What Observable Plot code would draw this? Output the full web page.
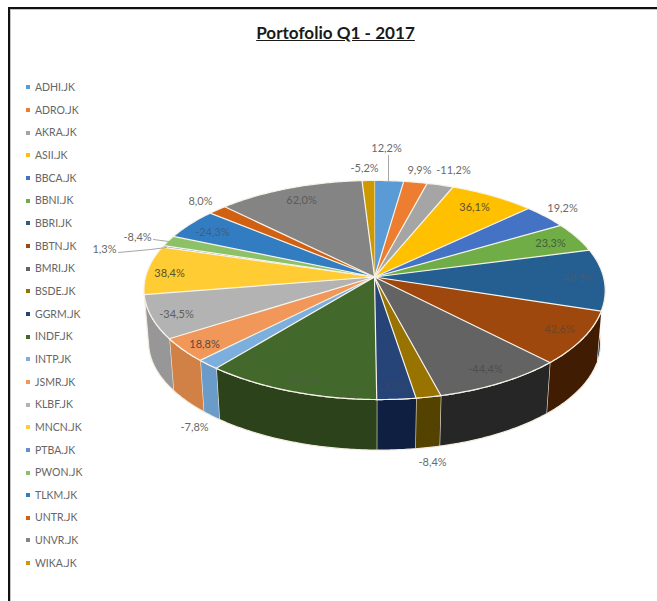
<!DOCTYPE html>
<html>
<head>
<meta charset="utf-8">
<title>Portofolio Q1 - 2017</title>
<script src="https://cdn.jsdelivr.net/npm/d3@7"></script>
<script src="https://cdn.jsdelivr.net/npm/@observablehq/plot@0.6"></script>
<style>
  html, body { margin: 0; padding: 0; background: #fff; overflow: hidden; }
  #frame {
    box-sizing: border-box; width: 649px; height: 594px; margin: 7px 0 0 8px;
    border-left: 2px solid #111; border-top: 2px solid #111;
    box-shadow: inset 1px 1px 0 #c4c4c4;
  }
  #title {
    height: 51px; box-sizing: border-box; padding: 13px 0 0 4px; text-align: center;
    font: 700 17.1px Lato, sans-serif; color: #1a1a1a; text-decoration: underline;
  }
  #row { display: flex; }
  #legend {
    width: 75px; box-sizing: border-box; padding: 16px 0 0 16px;
    font: 10.5px Lato, sans-serif; color: #666;
  }
  .key { height: 22.67px; line-height: 22.67px; white-space: nowrap; }
  .key i { display: inline-block; width: 4px; height: 4px; margin: 0 5px 2px 0; vertical-align: middle; }
  #pie svg { display: block; }
</style>
</head>
<body>
<div id="frame">
  <div id="title">Portofolio Q1 - 2017</div>
  <div id="row">
    <div id="legend"></div>
    <div id="pie"></div>
  </div>
</div>
<script>
// Holdings in legend order, clockwise from twelve o'clock.
const tickers = ["ADHI.JK","ADRO.JK","AKRA.JK","ASII.JK","BBCA.JK","BBNI.JK","BBRI.JK","BBTN.JK","BMRI.JK","BSDE.JK","GGRM.JK","INDF.JK","INTP.JK","JSMR.JK","KLBF.JK","MNCN.JK","PTBA.JK","PWON.JK","TLKM.JK","UNTR.JK","UNVR.JK","WIKA.JK"];
const returns = [12.2,9.9,-11.2,36.1,19.2,23.3,48.5,42.6,-44.4,-8.4,13.0,-58.3,-7.8,18.8,-34.5,38.4,1.3,-8.4,-24.3,8.0,62.0,-5.2];
const faceColors = ["#5B9BD5","#ED7D31","#A5A5A5","#FFC000","#4472C4","#70AD47","#255E91","#9E480E","#636363","#997300","#264478","#43682B","#7CAFDD","#F1975A","#B3B3B3","#FFCD33","#698ED0","#8CC168","#327DC2","#D26012","#848484","#CC9A00"];
const wallColors = ["#2f5070","#7a4018","#555555","#806000","#223a66","#385723","#1c3a5c","#3f1c02","#262626","#544200","#0f1f42","#2b421b","#6b9bc9","#d28146","#979797","#806700","#35476a","#466134","#193e61","#692f09","#424242","#664d00"];

// Label centres and leader lines, converted to the pie's own units below.
const labelCenters = [[386,148],[419,170],[453,170],[474,207],[562,208],[550,243],[578,278],[559,329],[485,369],[432,462],[391,386],[302,380],[194,427],[204,344],[176,314],[169,273],[104,249],[137,237],[212,232],[200,201],[301,200],[364,168]];
const labelTones = ["#6a6a6a","#6a6a6a","#6a6a6a","#5a5230","#6a6a6a","#44603a","#3f5d7c","#6e4426","#4e4e4e","#6a6a6a","#33466a","#4e6040","#6a6a6a","#5c4a3c","#5f5f5f","#5a5230","#6a6a6a","#6a6a6a","#3f5f80","#6a6a6a","#5a5a5a","#6a6a6a"];
const leaderPaths = [
  {ticker: "ADHI.JK", points: [[388,155],[388,180]]},
  {ticker: "PTBA.JK", points: [[118,252],[150,249],[166,247]]},
  {ticker: "PWON.JK", points: [[153,239],[168,241]]}
];

// Where the pie's apex and tilt land in the drawing.
const apexX = 374, apexY = 276.5, spanX = 229, spanY = 108;
const offsetX = 85, offsetY = 60;
const tilt = -0.1187, drift = 5 / spanX, depth = 53 / spanY, shrink = 0.98;
const toUnits = ([px, py]) => [(px - apexX) / spanX, (py - apexY) / spanY];

// Perspective view of a point on the rim of the disc.
function rim(angle) {
  const u = Math.sin(angle), v = -Math.cos(angle), w = 1 + tilt * v;
  return [u / w + drift * Math.max(v, 0) ** 2, v / w];
}
const floor = ([x, y]) => [x * shrink, y * shrink + depth];

const total = d3.sum(returns, Math.abs);
let running = 0;
const slices = tickers.map((ticker, i) => {
  const start = running / total * 2 * Math.PI;
  running += Math.abs(returns[i]);
  const end = running / total * 2 * Math.PI;
  const steps = Math.max(2, Math.ceil((end - start) / 0.01));
  const arc = d3.range(steps + 1).map(k => rim(start + (end - start) * k / steps));
  return {ticker, i, arc, front: -Math.cos((start + end) / 2) > 0};
});

const faceRows = slices.flatMap(s =>
  [[0, 0], ...s.arc].map(([x, y]) => ({ticker: s.ticker, tint: faceColors[s.i], x, y})));
// Only slices on the near half of the disc show their outer wall.
const wallRows = slices.filter(s => s.front).flatMap(s =>
  [...s.arc, ...s.arc.map(floor).reverse()].map(([x, y]) => ({ticker: s.ticker, tint: wallColors[s.i], x, y})));
const labelRows = tickers.map((ticker, i) => {
  const [x, y] = toUnits(labelCenters[i]);
  return {x, y, tone: labelTones[i], text: returns[i].toFixed(1).replace(".", ",") + "%"};
});
const leaderRows = leaderPaths.flatMap(l =>
  l.points.map(p => { const [x, y] = toUnits(p); return {ticker: l.ticker, x, y}; }));

const chart = Plot.plot({
  width: 572,
  height: 541,
  margin: 0,
  x: {domain: [-1, 1], range: [apexX - spanX - offsetX, apexX + spanX - offsetX], axis: null},
  y: {domain: [-1, 1], range: [apexY - spanY - offsetY, apexY + spanY - offsetY], axis: null},
  style: {background: "transparent"},
  marks: [
    Plot.line(wallRows, {x: "x", y: "y", z: "ticker", fill: "tint", stroke: "#f3ece0", strokeWidth: 1.2}),
    Plot.line(faceRows, {x: "x", y: "y", z: "ticker", fill: "tint", stroke: "#f7f3ea", strokeWidth: 1.2}),
    Plot.line(leaderRows, {x: "x", y: "y", z: "ticker", stroke: "#a6a6a6", strokeWidth: 1}),
    Plot.text(labelRows, {x: "x", y: "y", text: "text", fill: "tone", fontSize: 11, fontFamily: "Lato, sans-serif"})
  ]
});
document.getElementById("pie").appendChild(chart);

// Legend column, one swatch per holding.
const legend = document.getElementById("legend");
tickers.forEach((ticker, i) => {
  const row = document.createElement("div");
  row.className = "key";
  const swatch = document.createElement("i");
  swatch.style.background = faceColors[i];
  row.append(swatch, ticker);
  legend.append(row);
});
</script>
</body>
</html>
